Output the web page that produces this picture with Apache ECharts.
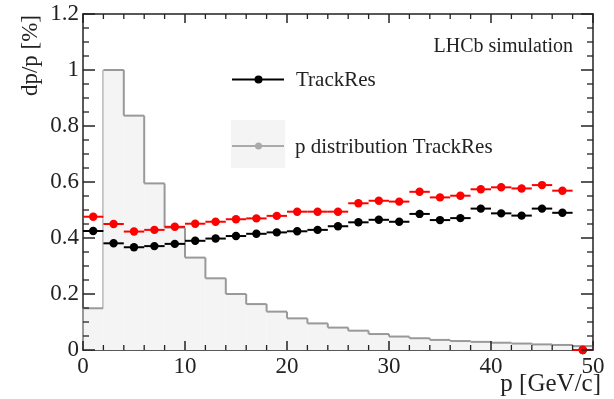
<!DOCTYPE html>
<html>
<head>
<meta charset="utf-8">
<script src="https://cdn.jsdelivr.net/npm/echarts@6/dist/echarts.min.js"></script>
<style>html,body{margin:0;padding:0;background:#fff}#c{width:614px;height:399px}</style>
</head>
<body>
<div id="c"></div>
<script>
// bin centers (GeV/c), bin width 2
var binCenters = [1,3,5,7,9,11,13,15,17,19,21,23,25,27,29,31,33,35,37,39,41,43,45,47,49];
// TrackRes resolution (black)
var trackRes = [0.425,0.381,0.367,0.371,0.379,0.390,0.398,0.407,0.415,0.420,0.424,0.429,0.442,0.456,0.465,0.458,0.486,0.464,0.471,0.505,0.488,0.480,0.505,0.490,0.0];
// second resolution set (red)
var redRes = [0.476,0.450,0.423,0.429,0.440,0.451,0.458,0.467,0.470,0.479,0.494,0.494,0.494,0.524,0.533,0.530,0.565,0.545,0.551,0.574,0.581,0.577,0.589,0.569,0.0];
// normalised p distribution (histogram), one value per bin
var pDist = [0.149,1.000,0.837,0.595,0.437,0.330,0.256,0.200,0.164,0.137,0.113,0.095,0.080,0.069,0.057,0.048,0.042,0.036,0.032,0.029,0.026,0.023,0.020,0.018,0.014];
var yTicks = [0,0.2,0.4,0.6,0.8,1,1.2];
var xTicks = [0,10,20,30,40,50];
var halfBin = 1;
var X_MIN = 0, X_MAX = 50, Y_MIN = 0, Y_MAX = 1.2;

var FONT = '"Liberation Serif", "DejaVu Serif", serif';
var TXT = '#222';
var AX = '#222';

function pts(vals){ return binCenters.map(function(x,i){ return [x, vals[i]]; }); }

// tick list: [value, axis(0=x,1=y), major(1)/minor(0)]
function buildTicks(major, sub, axis){
  var out = [];
  for (var i = 0; i < major.length; i++) {
    out.push([major[i], axis, 1]);
    if (i + 1 < major.length) {
      var step = (major[i+1] - major[i]) / sub;
      for (var k = 1; k < sub; k++) out.push([major[i] + k*step, axis, 0]);
    }
  }
  return out;
}
var tickData = buildTicks(xTicks, 5, 0).concat(buildTicks(yTicks, 4, 1));

function tickRender(params, api){
  var v = api.value(0), axis = api.value(1), major = api.value(2);
  var st = {stroke:AX, lineWidth: major ? 1.5 : 1.3};
  if (axis === 0) {
    var L = major ? 9 : 5;
    var b = api.coord([v, Y_MIN]), t = api.coord([v, Y_MAX]);
    return {type:'group', children:[
      {type:'line', shape:{x1:b[0],y1:b[1],x2:b[0],y2:b[1]-L}, style:st},
      {type:'line', shape:{x1:t[0],y1:t[1],x2:t[0],y2:t[1]+L}, style:st}
    ]};
  } else {
    var L2 = major ? 12 : 6;
    var l = api.coord([X_MIN, v]), r = api.coord([X_MAX, v]);
    return {type:'group', children:[
      {type:'line', shape:{x1:l[0],y1:l[1],x2:l[0]+L2,y2:l[1]}, style:st},
      {type:'line', shape:{x1:r[0],y1:r[1],x2:r[0]-L2,y2:r[1]}, style:st}
    ]};
  }
}

function errRender(color){
  return function(params, api){
    var x = api.value(0), y = api.value(1);
    var a = api.coord([x - halfBin, y]);
    var b = api.coord([x + halfBin, y]);
    var c = api.coord([x, y]);
    return {type:'group', children:[
      {type:'line', shape:{x1:a[0],y1:a[1],x2:b[0],y2:b[1]}, style:{stroke:color, lineWidth:2}},
      {type:'circle', shape:{cx:c[0],cy:c[1],r:4.2}, style:{fill:color}}
    ]};
  };
}

function histRender(params, api){
  var i = params.dataIndex;
  var x = api.value(0), h = api.value(1);
  var next = (i + 1 < pDist.length) ? pDist[i+1] : 0;
  var p0 = api.coord([x - halfBin, 0]);
  var p1 = api.coord([x - halfBin, h]);
  var p2 = api.coord([x + halfBin, h]);
  var p3 = api.coord([x + halfBin, next]);
  var children = [
    {type:'rect', shape:{x:p1[0], y:p1[1], width:p2[0]-p1[0], height:p0[1]-p1[1]}, style:{fill:'#f4f4f4'}},
    {type:'line', shape:{x1:p1[0],y1:p1[1],x2:p2[0],y2:p2[1]}, style:{stroke:'#999', lineWidth:2}},
    {type:'line', shape:{x1:p2[0],y1:p2[1],x2:p3[0],y2:p3[1]}, style:{stroke:'#999', lineWidth:2}}
  ];
  if (i === 0) {
    children.push({type:'line', shape:{x1:p0[0],y1:p0[1],x2:p1[0],y2:p1[1]}, style:{stroke:'#999', lineWidth:2}});
  }
  return {type:'group', children:children};
}

function axisBase(extra){
  return Object.assign({
    type:'value',
    axisLine:{show:true, onZero:false, lineStyle:{color:AX, width:1.5}},
    axisTick:{show:false},
    minorTick:{show:false},
    splitLine:{show:false}
  }, extra);
}

var chart = echarts.init(document.getElementById('c'), null, {renderer:'canvas'});
chart.setOption({
  animation:false,
  backgroundColor:'#fff',
  grid:{left:83, right:21, top:14, bottom:49},
  xAxis:[
    axisBase({min:X_MIN, max:X_MAX, interval:10, position:'bottom',
      axisLabel:{show:true, margin:5, fontFamily:FONT, fontSize:23, color:TXT,
        formatter:function(v){ return xTicks.indexOf(v)>=0 ? String(v) : ''; }}
    }),
    axisBase({min:X_MIN, max:X_MAX, interval:10, position:'top', axisLabel:{show:false}})
  ],
  yAxis:[
    axisBase({min:Y_MIN, max:Y_MAX, interval:0.2, position:'left',
      axisLabel:{show:true, margin:4, fontFamily:FONT, fontSize:23, color:TXT,
        formatter:function(v){ var r = Math.round(v*10)/10; return yTicks.indexOf(r)>=0 ? String(r) : ''; }}
    }),
    axisBase({min:Y_MIN, max:Y_MAX, interval:0.2, position:'right', axisLabel:{show:false}})
  ],
  series:[
    {name:'p distribution TrackRes', type:'custom', data:pts(pDist),
     xAxisIndex:0, yAxisIndex:0, renderItem:histRender, z:1},
    {name:'ticks', type:'custom', data:tickData, xAxisIndex:0, yAxisIndex:0,
     encode:{x:0, y:1}, renderItem:tickRender, z:6, clip:false, silent:true},
    {name:'TrackRes', type:'custom', data:pts(trackRes), xAxisIndex:0, yAxisIndex:0,
     renderItem:errRender('#000'), z:3, clip:false},
    {name:'Red', type:'custom', data:pts(redRes), xAxisIndex:0, yAxisIndex:0,
     renderItem:errRender('#f00'), z:4, clip:false}
  ],
  graphic:[
    {type:'text', x:31, y:15, rotation:Math.PI/2, z:10,
     style:{text:'dp/p [%]', font:'23px '+FONT, fill:TXT, align:'right', verticalAlign:'middle'}},
    {type:'text', x:601, y:384, z:10,
     style:{text:'p [GeV/c]', font:'25px '+FONT, fill:TXT, align:'right', verticalAlign:'middle'}},
    {type:'text', x:573, y:47, z:10,
     style:{text:'LHCb simulation', font:'20px '+FONT, fill:TXT, align:'right', verticalAlign:'middle'}},
    // legend
    {type:'line', z:10, shape:{x1:232,y1:79.5,x2:284,y2:79.5}, style:{stroke:'#000', lineWidth:2}},
    {type:'circle', z:10, shape:{cx:258.5,cy:79.5,r:4}, style:{fill:'#000'}},
    {type:'text', x:296, y:80, z:10,
     style:{text:'TrackRes', font:'21px '+FONT, fill:TXT, align:'left', verticalAlign:'middle'}},
    {type:'rect', z:9, shape:{x:231,y:120,width:54,height:48}, style:{fill:'#f4f4f4'}},
    {type:'line', z:10, shape:{x1:232,y1:146,x2:284,y2:146}, style:{stroke:'#aaa', lineWidth:2}},
    {type:'circle', z:10, shape:{cx:258.5,cy:146,r:3.5}, style:{fill:'#aaa'}},
    {type:'text', x:295, y:147, z:10,
     style:{text:'p distribution TrackRes', font:'21px '+FONT, fill:TXT, align:'left', verticalAlign:'middle'}}
  ]
});
</script>
</body>
</html>
